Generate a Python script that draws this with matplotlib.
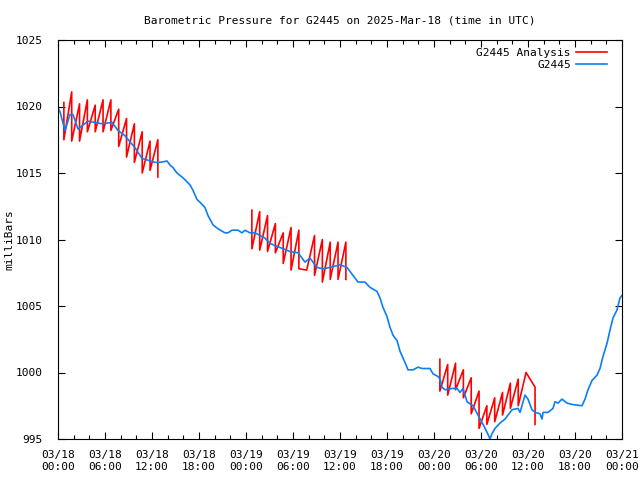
import numpy as np
import pandas as pd
import matplotlib
matplotlib.use("Agg")
import matplotlib.pyplot as plt
import matplotlib.dates as mdates

# =============================
# Data (hours after 2025-03-18 00:00 UTC, millibars)
# =============================
start = pd.Timestamp("2025-03-18 00:00")

obs_hours = [0.00, 0.26, 0.89, 1.53, 1.91, 2.55, 3.83, 4.72, 5.62, 6.89, 7.66, 8.55,
             9.83, 10.72, 12.38, 13.02, 13.92, 14.30, 14.68, 15.19, 15.83, 16.21,
             16.85, 17.23, 17.75, 18.13, 18.77, 19.15, 19.79, 20.43, 21.32, 21.70,
             22.21, 22.98, 23.49, 23.87, 24.51, 25.15, 25.79, 26.43, 27.06, 28.34,
             29.62, 30.64, 31.53, 32.17, 33.06, 33.83, 34.72, 36.00, 36.89, 37.66,
             38.30, 39.19, 39.83, 40.72, 41.11, 41.49, 42.00, 42.38, 42.77, 43.28,
             43.66, 44.04, 44.55, 44.68, 45.32, 45.96, 46.47, 47.49, 47.87, 48.51,
             48.77, 49.02, 49.41, 50.30, 50.94, 51.32, 51.70, 52.21, 52.98, 53.62,
             54.26, 54.77, 55.15, 55.41, 55.79, 56.43, 57.07, 57.96, 58.72, 58.98,
             59.62, 60.00, 60.51, 60.90, 61.53, 61.79, 61.92, 62.55, 63.19, 63.45,
             63.83, 64.34, 64.98, 65.62, 66.89, 67.28, 67.66, 68.17, 68.81, 69.19,
             69.57, 70.09, 70.47, 70.85, 71.36, 71.74, 72.00]
obs_press = [1019.9, 1019.6, 1018.2, 1019.4, 1019.4, 1018.3, 1018.9, 1018.8, 1018.7,
             1018.8, 1018.2, 1017.8, 1016.9, 1016.1, 1015.8, 1015.8, 1015.9, 1015.6,
             1015.4, 1015.0, 1014.7, 1014.5, 1014.1, 1013.7, 1013.0, 1012.8, 1012.4,
             1011.8, 1011.1, 1010.8, 1010.5, 1010.5, 1010.7, 1010.7, 1010.5, 1010.7,
             1010.5, 1010.5, 1010.3, 1010.1, 1009.7, 1009.4, 1009.1, 1009.0, 1008.3,
             1008.6, 1007.9, 1007.8, 1007.9, 1008.1, 1007.9, 1007.3, 1006.8, 1006.8,
             1006.4, 1006.1, 1005.6, 1004.9, 1004.2, 1003.4, 1002.8, 1002.4, 1001.6,
             1001.1, 1000.4, 1000.2, 1000.2, 1000.4, 1000.3, 1000.3, 999.9, 999.7,
             999.5, 998.9, 998.7, 998.8, 998.8, 998.5, 998.8, 997.8, 997.5, 996.8,
             996.1, 995.5, 995.0, 995.4, 995.8, 996.2, 996.5, 997.2, 997.3, 997.0,
             998.3, 998.0, 997.2, 997.0, 996.9, 996.5, 997.0, 997.0, 997.3, 997.8,
             997.7, 998.0, 997.7, 997.6, 997.5, 998.0, 998.7, 999.4, 999.8, 1000.3,
             1001.2, 1002.2, 1003.2, 1004.1, 1004.7, 1005.6, 1005.8]

# Analysis runs: each hour a high value that drops to a low value
run1_hours = [0.75, 1.75, 2.75, 3.75, 4.75, 5.75, 6.75, 7.75, 8.75, 9.75, 10.75, 11.75, 12.75]
run1_high = [1020.3, 1021.1, 1020.2, 1020.5, 1020.1, 1020.5, 1020.5, 1019.8, 1019.1,
             1018.7, 1018.1, 1017.4, 1017.5]
run1_low = [1017.5, 1017.4, 1017.4, 1018.1, 1018.1, 1018.1, 1018.2, 1017.0, 1016.2,
            1015.8, 1015.0, 1015.2, 1014.7]

run2_hours = [24.75, 25.75, 26.75, 27.75, 28.75, 29.75, 30.75, 31.75, 32.75, 33.75,
              34.75, 35.75, 36.75]
run2_high = [1012.2, 1012.1, 1011.8, 1011.2, 1010.5, 1010.9, 1010.7, 1007.7, 1010.3,
             1010.0, 1009.8, 1009.8, 1009.8]
run2_low = [1009.3, 1009.2, 1009.1, 1009.0, 1008.2, 1007.7, 1007.8, 1007.7, 1007.3,
            1006.8, 1007.0, 1007.0, 1007.0]

run3_hours = [48.75, 49.75, 50.75, 51.75, 52.75, 53.75, 54.75, 55.75, 56.75, 57.75,
              58.75, 59.75, 60.90]
run3_high = [1001.0, 1000.6, 1000.7, 1000.2, 999.6, 998.6, 997.5, 998.1, 998.5, 999.2,
             999.5, 1000.0, 998.9]
run3_low = [998.6, 998.3, 998.7, 998.1, 996.9, 995.8, 996.1, 996.3, 996.8, 997.3,
            997.5, 1000.0, 996.1]

red = "#ff0000"
blue = "#0a7ff5"

plt.rcParams["font.family"] = ["DejaVu Sans Mono"]
plt.rcParams["font.size"] = 8

fig = plt.figure(figsize=(6.4, 4.8), dpi=100)
ax = fig.add_axes([58 / 640, 41 / 480, 564 / 640, 399 / 480])


def to_time(hours):
    return start + pd.to_timedelta(np.asarray(hours), unit="h")


# build sawtooth path: high then low at each run time
first = True
for hrs, hi, lo in [(run1_hours, run1_high, run1_low),
                    (run2_hours, run2_high, run2_low),
                    (run3_hours, run3_high, run3_low)]:
    t = np.repeat(np.asarray(hrs), 2)
    v = np.column_stack([hi, lo]).ravel()
    ax.plot(to_time(t), v, color=red, lw=1.2,
            label="G2445 Analysis" if first else None)
    first = False

ax.plot(to_time(obs_hours), obs_press, color=blue, lw=1.2, label="G2445")

ax.set_ylim(995, 1025)
ax.set_yticks(np.arange(995, 1026, 5))
ax.set_xlim(start, start + pd.Timedelta(hours=72))
ax.xaxis.set_major_locator(mdates.HourLocator(byhour=[0, 6, 12, 18]))
ax.xaxis.set_minor_locator(mdates.HourLocator(byhour=range(0, 24, 2)))
ax.xaxis.set_major_formatter(mdates.DateFormatter("%m/%d\n%H:%M"))

ax.tick_params(which="both", direction="in", top=True, right=True, width=0.8,
               colors="black", labelsize=8)
ax.tick_params(which="major", length=5)
ax.tick_params(which="minor", length=3)
ax.tick_params(axis="x", which="major", pad=8)
ax.tick_params(axis="y", which="major", pad=11)
for s in ax.spines.values():
    s.set_linewidth(0.8)

ax.set_ylabel("milliBars")
ax.yaxis.set_label_coords(-0.078, 0.5)
ax.set_title("Barometric Pressure for G2445 on 2025-Mar-18 (time in UTC)",
             fontsize=8, pad=12)

ax.legend(loc="upper right", bbox_to_anchor=(1 - 9 / 564, 1 - 2 / 399),
          frameon=False, markerfirst=False, handlelength=2.8,
          fontsize=8, borderaxespad=0.2, labelspacing=0.25, handletextpad=0.5,
          borderpad=0.3)

fig.savefig("out.png", dpi=100)
